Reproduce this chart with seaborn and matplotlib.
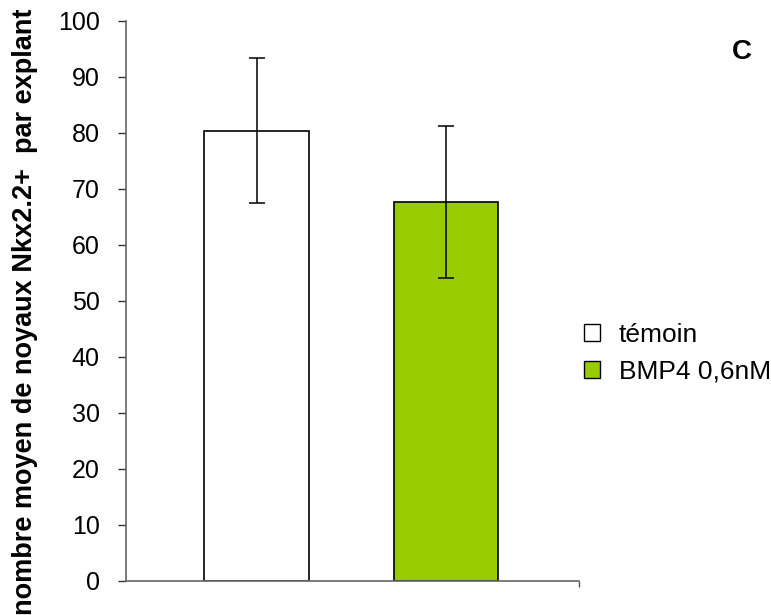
import matplotlib
matplotlib.use("Agg")
import matplotlib.pyplot as plt
import matplotlib.patches as mpatches
import seaborn as sns

groups = ["témoin", "BMP4 0,6nM"]
means = [80.4, 67.7]
errs = [12.9, 13.6]
colors = ["#FFFFFF", "#99CC00"]

sns.set_theme(style="white")
plt.rcParams["font.family"] = ["Liberation Sans", "DejaVu Sans"]
plt.rcParams["text.color"] = "black"
plt.rcParams["axes.labelcolor"] = "black"
plt.rcParams["ytick.color"] = "black"

fig = plt.figure(figsize=(7.71, 6.15), dpi=100)
ax = fig.add_axes([0.1634, 0.0553, 0.5876, 0.9106])

sns.barplot(x=groups, y=means, hue=groups, palette=colors, edgecolor="black",
            linewidth=1.2, width=0.554, saturation=1, legend=False, ax=ax)
ax.errorbar(x=range(len(groups)), y=means, yerr=errs, fmt="none",
            ecolor="black", elinewidth=1.1, capsize=6, capthick=1.1)

ax.set_ylim(0, 100)
ax.set_xlim(-0.689, 1.702)
ax.set_yticks(range(0, 101, 10))
ax.tick_params(axis="y", labelsize=18, length=6, width=1, color="#333333",
               labelcolor="black", direction="out", left=True, pad=13)
ax.set_xticks([1.702])
ax.set_xticklabels([""])
ax.tick_params(axis="x", length=4, width=1, color="#555555", bottom=True)
for s in ["top", "right"]:
    ax.spines[s].set_visible(False)
for s in ["left", "bottom"]:
    ax.spines[s].set_color("#666666")
    ax.spines[s].set_linewidth(1.2)

ax.set_xlabel("")
ax.set_ylabel("nombre moyen de noyaux Nkx2.2+  par explant", fontsize=19.5,
              fontweight="bold")
ax.yaxis.set_label_coords(-0.195, 0.48)

handles = [mpatches.Patch(facecolor=c, edgecolor="black", label=g)
           for g, c in zip(groups, colors)]
fig.legend(handles=handles, loc="center left", bbox_to_anchor=(0.7575, 0.4252),
           frameon=False, fontsize=19, handlelength=0.6, handleheight=0.6,
           handletextpad=0.72, labelspacing=0.48, borderpad=0, borderaxespad=0)

fig.text(0.9624, 0.904, "C", fontsize=20, fontweight="bold", ha="center",
         va="baseline")

fig.savefig("out.png", dpi=100)
